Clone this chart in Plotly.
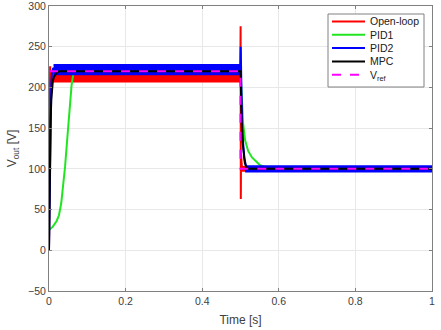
import plotly.graph_objects as go

# ------------------------------------------------------------
# Dados (tensão de saída, V)
# ------------------------------------------------------------

# Open-loop: transitório + faixa de ripple (envelopes)
t_ol = [0, 0.001, 0.002, 0.003, 0.004, 0.006, 0.4995, 0.5003, 0.5008, 0.5014, 0.502, 0.503, 0.505, 0.51, 1.0]
v_ol = [0, 120, 210, 226, 205, 214, 213, 275, 63, 118, 92, 106, 98, 100, 100]
ol_band_t = [[0.004, 0.5], [0.504, 1.0]]
ol_band_hi = [[218, 218], [102.5, 102.5]]
ol_band_lo = [[207, 207], [97.5, 97.5]]

# PID1
t_pid1 = [0, 0.01, 0.02, 0.026, 0.032, 0.037, 0.042, 0.047, 0.051, 0.055, 0.059, 0.063, 0.068,
          0.5, 0.503, 0.507, 0.512, 0.52, 0.53, 0.538, 0.55, 0.564, 0.58, 0.6, 1.0]
v_pid1 = [25, 29, 36, 43, 58, 78, 103, 133, 158, 183, 203, 215, 220,
          220, 185, 155, 135, 122, 114, 110, 105, 102, 100.5, 100, 100]

# PID2: transitório + faixa de ripple
t_pid2 = [0, 0.002, 0.004, 0.006, 0.008, 0.011, 0.014, 0.4995, 0.5005, 0.502, 0.504, 0.507, 0.51, 0.514, 0.518, 1.0]
v_pid2 = [0, 100, 170, 205, 218, 224, 222, 222, 250, 200, 160, 130, 114, 104, 100, 100]
pid2_band_t = [[0.012, 0.5], [0.512, 1.0]]
pid2_band_hi = [[228, 228], [103.5, 103.5]]
pid2_band_lo = [[216, 216], [96.5, 96.5]]

# MPC
t_mpc = [0, 0.002, 0.004, 0.006, 0.008, 0.01, 0.013, 0.016, 0.02, 0.025, 0.03,
         0.5, 0.501, 0.503, 0.505, 0.508, 0.511, 0.515, 0.52, 1.0]
v_mpc = [0, 95, 155, 185, 200, 208, 213, 216, 218, 219.5, 220,
         220, 190, 160, 135, 118, 108, 102, 100, 100]

# Referência
t_ref = [0, 0.5, 0.5, 1.0]
v_ref = [220, 220, 100, 100]

x_ticks = [0, 0.2, 0.4, 0.6, 0.8, 1]
x_ticktext = ["0", "0.2", "0.4", "0.6", "0.8", "1"]
y_ticks = [-50, 0, 50, 100, 150, 200, 250, 300]

nomes = ["Open-loop", "PID1", "PID2", "MPC", "V<sub>ref</sub>"]

VERMELHO = "#ff0000"
VERDE = "#22e522"
AZUL = "#0000ff"
PRETO = "#000000"
MAGENTA = "#ff00ff"
cores = [VERMELHO, VERDE, AZUL, PRETO, MAGENTA]

# área do gráfico em pixels (para a legenda desenhada à mão)
W, H = 441, 330
ML, MR, MT, MB = 49, 9, 6, 39
PW, PH = W - ML - MR, H - MT - MB


def px(x):
    return (x - ML) / PW


def py(y):
    return 1 - (y - MT) / PH


def faixa(ts, his, los):
    """Polígonos (fill toself) a partir dos envelopes superior/inferior."""
    xs, ys = [], []
    for t, hi, lo in zip(ts, his, los):
        if xs:
            xs.append(None)
            ys.append(None)
        xs += t + t[::-1]
        ys += hi + lo[::-1]
    return xs, ys


fig = go.Figure()

x, y = faixa(ol_band_t, ol_band_hi, ol_band_lo)
fig.add_trace(go.Scatter(x=x, y=y, fill="toself", fillcolor=VERMELHO, mode="lines",
                         line=dict(color=VERMELHO, width=1.5), hoverinfo="skip"))
fig.add_trace(go.Scatter(x=t_ol, y=v_ol, mode="lines", name=nomes[0],
                         line=dict(color=VERMELHO, width=2)))

fig.add_trace(go.Scatter(x=t_pid1, y=v_pid1, mode="lines", name=nomes[1],
                         line=dict(color=VERDE, width=2)))

x, y = faixa(pid2_band_t, pid2_band_hi, pid2_band_lo)
fig.add_trace(go.Scatter(x=x, y=y, fill="toself", fillcolor=AZUL, mode="lines",
                         line=dict(color=AZUL, width=1.5), hoverinfo="skip"))
fig.add_trace(go.Scatter(x=t_pid2, y=v_pid2, mode="lines", name=nomes[2],
                         line=dict(color=AZUL, width=2)))

fig.add_trace(go.Scatter(x=t_mpc, y=v_mpc, mode="lines", name=nomes[3],
                         line=dict(color=PRETO, width=2)))

fig.add_trace(go.Scatter(x=t_ref, y=v_ref, mode="lines", name=nomes[4],
                         line=dict(color=MAGENTA, width=2, dash="dash")))

# Legenda estilo MATLAB (caixa compacta)
fig.add_shape(type="rect", xref="paper", yref="paper",
              x0=px(328), x1=px(424), y0=py(87), y1=py(14),
              fillcolor="white", line=dict(color="#808080", width=1), layer="above")
for i, (nome, cor) in enumerate(zip(nomes, cores)):
    yc = 21.5 + i * 13.3
    fig.add_shape(type="line", xref="paper", yref="paper",
                  x0=px(332), x1=px(365), y0=py(yc), y1=py(yc),
                  line=dict(color=cor, width=2, dash="dash" if i == 4 else "solid"),
                  layer="above")
    fig.add_annotation(text=nome, xref="paper", yref="paper", x=px(368), y=py(yc + (1.5 if i == 4 else 0)),
                       xanchor="left", yanchor="middle", showarrow=False,
                       font=dict(size=10.5, color="#202020"))

eixo = dict(
    showline=True, linecolor="#808080", linewidth=1, mirror="ticks",
    ticks="inside", ticklen=3, tickcolor="#808080",
    showgrid=True, gridcolor="#e8e8e8", gridwidth=1,
    zeroline=False, tickfont=dict(size=10.5, color="#404040"),
    automargin=False, ticklabeloverflow="allow",
)

fig.update_layout(
    width=W, height=H,
    margin=dict(l=ML, r=MR, t=MT, b=MB),
    paper_bgcolor="white", plot_bgcolor="white",
    font=dict(family="Liberation Sans, Arial, sans-serif", color="#404040"),
    xaxis=dict(eixo, range=[0, 1], tickvals=x_ticks, ticktext=x_ticktext,
               title=dict(text="Time [s]", font=dict(size=12), standoff=10)),
    yaxis=dict(eixo, range=[-50, 300], tickvals=y_ticks,
               title=dict(text="V<sub>out</sub> [V]", font=dict(size=12), standoff=8)),
    showlegend=False,
)

fig.write_html("out.html", config={"displayModeBar": False},
               post_script="document.body.style.margin='0';")
